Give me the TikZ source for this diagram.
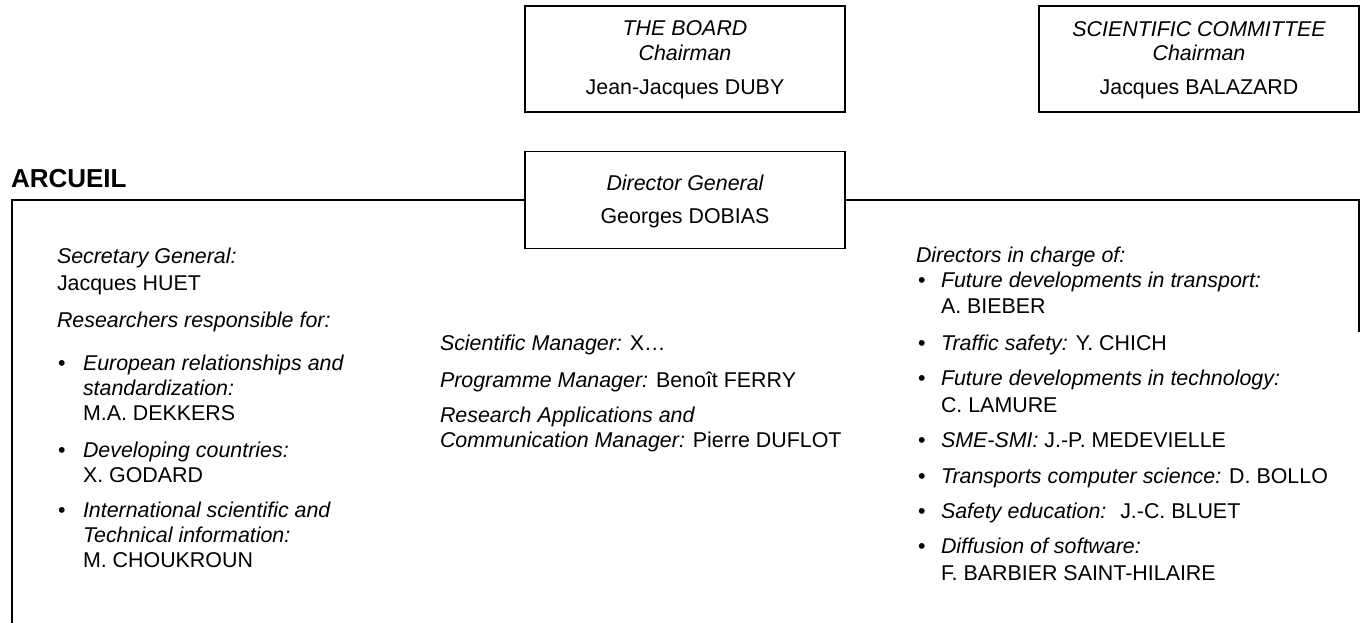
\documentclass[tikz,border=0pt]{standalone}
\usepackage{fontspec}
\setmainfont{Liberation Sans}
\begin{document}
\begin{tikzpicture}[x=1pt,y=-1pt,
  every node/.style={inner sep=0pt, outer sep=0pt, font=\fontsize{21.4}{25}\selectfont},
  txt/.style={anchor=base west},
  ctr/.style={anchor=base},
  frameline/.style={line width=1.7pt, black},
  orgbox/.style={draw, line width=1.7pt, minimum width=320pt, minimum height=106pt},
  dirbox/.style={draw, line width=1.7pt, minimum width=320pt, minimum height=97pt},
  head/.style={anchor=base west, font=\fontsize{26}{30}\selectfont\bfseries}]
\useasboundingbox (0,0) rectangle (1360,623);

% top boxes
\node[orgbox] (board) at (685,59) {};
\node[ctr] (board1) at (685,36) {\itshape THE BOARD};
\node[ctr] (board2) at (685,61) {\itshape Chairman};
\node[ctr] (board3) at (685,95) {Jean-Jacques DUBY};

\node[orgbox] (sci) at (1199,59) {};
\node[ctr] (sci1) at (1199,37) {\itshape SCIENTIFIC COMMITTEE};
\node[ctr] (sci2) at (1199,61) {\itshape Chairman};
\node[ctr] (sci3) at (1199,95) {Jacques BALAZARD};

\node[dirbox] (dir) at (685,200) {};
\node[ctr] (dir1) at (685,190) {\itshape Director General};
\node[ctr] (dir2) at (685,223) {Georges DOBIAS};

% ARCUEIL frame
\node[head] (arc) at (11,187) {ARCUEIL};
\coordinate (ftl) at (12,200);
\coordinate (fbl) at (12,623);
\coordinate (ftr) at (1359,200);
\coordinate (fbr) at (1359,332);
\draw[frameline] (dir.west) -- (ftl) -- (fbl);
\draw[frameline] (dir.east) -- (ftr) -- (fbr);

% left column
\node[txt] (l1) at (57,263) {\itshape Secretary General:};
\node[txt] (l2) at (57,290) {Jacques HUET};
\node[txt] (l3) at (57,327) {\itshape Researchers responsible for:};
\node[txt] (lb1) at (58,370) {•};
\node[txt] (l4) at (83,370) {\itshape European relationships and};
\node[txt] (l5) at (83,395) {\itshape standardization:};
\node[txt] (l6) at (83,420) {M.A. DEKKERS};
\node[txt] (lb2) at (58,457) {•};
\node[txt] (l7) at (83,457) {\itshape Developing countries:};
\node[txt] (l8) at (83,482) {X. GODARD};
\node[txt] (lb3) at (58,517) {•};
\node[txt] (l9) at (83,517) {\itshape International scientific and};
\node[txt] (l10) at (83,542) {\itshape Technical information:};
\node[txt] (l11) at (83,567) {M. CHOUKROUN};

% middle column
\node[txt] (m1) at (440,350) {\itshape Scientific Manager: \upshape X…};
\node[txt] (m2) at (440,387) {\itshape Programme Manager: \upshape Benoît FERRY};
\node[txt] (m3) at (440,422) {\itshape Research Applications and};
\node[txt] (m4) at (440,447) {\itshape Communication Manager: \upshape Pierre DUFLOT};

% right column
\node[txt] (r0) at (916,262) {\itshape Directors in charge of:};
\node[txt] (rb1) at (918,287) {•};
\node[txt] (r1) at (941,287) {\itshape Future developments in transport:};
\node[txt] (r2) at (941,313) {A. BIEBER};
\node[txt] (rb2) at (918,350) {•};
\node[txt] (r3) at (941,350) {\itshape Traffic safety: \upshape Y. CHICH};
\node[txt] (rb3) at (918,385) {•};
\node[txt] (r4) at (941,385) {\itshape Future developments in technology:};
\node[txt] (r5) at (941,412) {C. LAMURE};
\node[txt] (rb4) at (918,447) {•};
\node[txt] (r6) at (941,447) {\itshape SME-SMI: \upshape J.-P. MEDEVIELLE};
\node[txt] (rb5) at (918,483) {•};
\node[txt] (r7) at (941,483) {\itshape Transports computer science: \upshape D. BOLLO};
\node[txt] (rb6) at (918,518) {•};
\node[txt] (r8) at (941,518) {\itshape Safety education: \ \upshape J.-C. BLUET};
\node[txt] (rb7) at (918,553) {•};
\node[txt] (r9) at (941,553) {\itshape Diffusion of software:};
\node[txt] (r10) at (941,580) {F. BARBIER SAINT-HILAIRE};
\end{tikzpicture}
\end{document}
